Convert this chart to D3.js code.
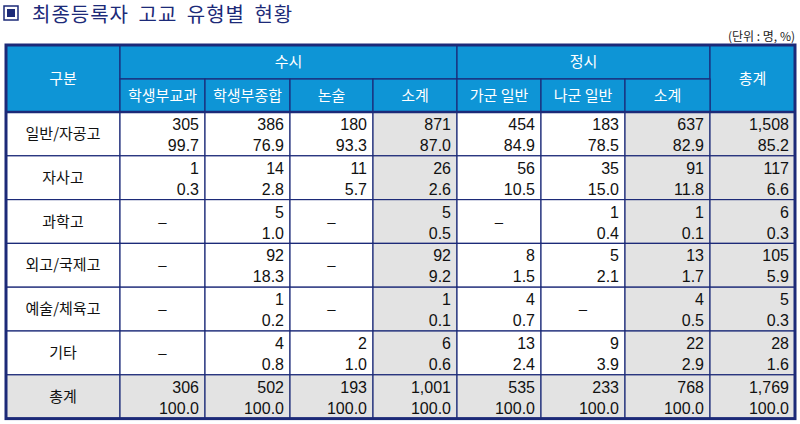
<!DOCTYPE html>
<html><head><meta charset="utf-8">
<script src="https://cdn.jsdelivr.net/npm/d3@7"></script>
<style>body{margin:0;background:#fff;font-family:"Noto Sans CJK KR","Noto Sans",sans-serif;}</style>
</head><body><div id="chart"></div>
<script>
const width = 800, height = 424;

const rowLabels = ["일반/자공고", "자사고", "과학고", "외고/국제고", "예술/체육고", "기타", "총계"];
const subHeaders = ["학생부교과", "학생부종합", "논술", "소계", "가군 일반", "나군 일반", "소계"];
// counts and percentages per row (null = "–")
const counts = [
  [305, 386, 180, 871, 454, 183, 637, 1508],
  [1, 14, 11, 26, 56, 35, 91, 117],
  [null, 5, null, 5, null, 1, 1, 6],
  [null, 92, null, 92, 8, 5, 13, 105],
  [null, 1, null, 1, 4, null, 4, 5],
  [null, 4, 2, 6, 13, 9, 22, 28],
  [306, 502, 193, 1001, 535, 233, 768, 1769]
];
const pcts = [
  [99.7, 76.9, 93.3, 87.0, 84.9, 78.5, 82.9, 85.2],
  [0.3, 2.8, 5.7, 2.6, 10.5, 15.0, 11.8, 6.6],
  [null, 1.0, null, 0.5, null, 0.4, 0.1, 0.3],
  [null, 18.3, null, 9.2, 1.5, 2.1, 1.7, 5.9],
  [null, 0.2, null, 0.1, 0.7, null, 0.5, 0.3],
  [null, 0.8, 1.0, 0.6, 2.4, 3.9, 2.9, 1.6],
  [100, 100, 100, 100, 100, 100, 100, 100]
];
const grayCols = [3, 6, 7];

const colX = [6, 120, 205, 290, 373, 457, 541, 625, 710, 795];
const headTop = 45, headMid = 79, headBot = 112, rowH = 43.8;
const blue = "#0e95d6", navy = "#1c2a78", gray = "#e3e3e3";
const numFont = "'Liberation Sans', Arial, sans-serif";

const svg = d3.select("#chart").append("svg").attr("width", width).attr("height", height);

// title
svg.append("rect").attr("x", 4).attr("y", 6).attr("width", 14).attr("height", 14)
  .attr("fill", "none").attr("stroke", navy).attr("stroke-width", 1.5);
svg.append("rect").attr("x", 7).attr("y", 9).attr("width", 8).attr("height", 8).attr("fill", navy);
svg.append("text").attr("x", 32).attr("y", 22).attr("font-size", 20).attr("fill", navy)
  .attr("letter-spacing", 1).attr("word-spacing", 4).text("최종등록자 고교 유형별 현황");
svg.append("text").attr("x", 795).attr("y", 41).attr("text-anchor", "end").attr("font-size", 12)
  .attr("fill", "#222").text("(단위 : 명, %)");

const cell = (x0, y0, x1, y1, fill) => svg.append("rect").attr("x", x0).attr("y", y0)
  .attr("width", x1 - x0).attr("height", y1 - y0).attr("fill", fill)
  .attr("stroke", navy).attr("stroke-width", 1.2);
const label = (x, y, t, opts = {}) => svg.append("text").attr("x", x).attr("y", y)
  .attr("text-anchor", opts.anchor || "middle").attr("font-size", opts.size || 15)
  .attr("font-family", opts.font || null)
  .attr("fill", opts.color || "#111").text(t);

// header
cell(colX[0], headTop, colX[1], headBot, blue);
label((colX[0] + colX[1]) / 2, 84, "구분", { color: "#fff" });
cell(colX[1], headTop, colX[5], headMid, blue);
label((colX[1] + colX[5]) / 2, 67, "수시", { color: "#fff" });
cell(colX[5], headTop, colX[8], headMid, blue);
label((colX[5] + colX[8]) / 2, 67, "정시", { color: "#fff" });
cell(colX[8], headTop, colX[9], headBot, blue);
label((colX[8] + colX[9]) / 2, 84, "총계", { color: "#fff" });
subHeaders.forEach((h, i) => {
  cell(colX[i + 1], headMid, colX[i + 2], headBot, blue);
  label((colX[i + 1] + colX[i + 2]) / 2, 101, h, { color: "#fff" });
});

const fmtN = d3.format(",");
const fmtP = d3.format(".1f");

rowLabels.forEach((r, ri) => {
  const y0 = headBot + ri * rowH, y1 = y0 + rowH;
  const isTotal = ri === rowLabels.length - 1;
  cell(colX[0], y0, colX[1], y1, isTotal ? gray : "#fff");
  label((colX[0] + colX[1]) / 2, (y0 + y1) / 2 + 5, r);
  counts[ri].forEach((c, ci) => {
    const x0 = colX[ci + 1], x1 = colX[ci + 2];
    cell(x0, y0, x1, y1, isTotal || grayCols.includes(ci) ? gray : "#fff");
    if (c == null) {
      label((x0 + x1) / 2, (y0 + y1) / 2 + 5, "–", { font: numFont });
    } else {
      label(x1 - 6, y0 + 18, fmtN(c), { anchor: "end", size: 16, font: numFont });
      label(x1 - 6, y0 + 39, fmtP(pcts[ri][ci]), { anchor: "end", size: 16, font: numFont });
    }
  });
});

// thick outer border and separators
const tableBot = headBot + rowLabels.length * rowH;
svg.append("rect").attr("x", colX[0]).attr("y", headTop).attr("width", colX[9] - colX[0])
  .attr("height", tableBot - headTop).attr("fill", "none").attr("stroke", navy).attr("stroke-width", 3);
svg.append("line").attr("x1", colX[0]).attr("x2", colX[9]).attr("y1", headBot).attr("y2", headBot)
  .attr("stroke", navy).attr("stroke-width", 2.5);
</script></body></html>
